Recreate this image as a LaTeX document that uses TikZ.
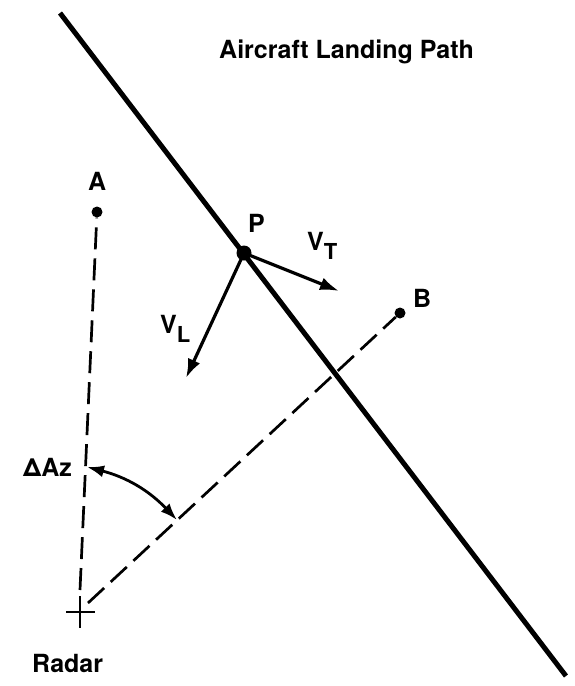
\documentclass[tikz,border=0pt]{standalone}
\usepackage{fontspec}
\setmainfont{TeX Gyre Heros}
\usepackage{tikz}
\usetikzlibrary{arrows.meta,positioning}

\newcommand{\lowsub}[1]{\raisebox{-9pt}{\fontsize{22}{22}\selectfont #1}}

\begin{document}
\begin{tikzpicture}[
  x=1pt, y=-1pt,
  font=\fontsize{25}{28}\selectfont\bfseries,
  lbl/.style={inner sep=0pt, anchor=base west},
  dot/.style={circle, fill, inner sep=0pt, minimum size=11pt},
  bigdot/.style={circle, fill, inner sep=0pt, minimum size=15pt},
  sight/.style={line width=2.7pt, dash pattern=on 22pt off 9pt},
  arr/.style={-{Latex[length=19pt, width=13pt]}, line width=3.2pt}
]
  \useasboundingbox (0,0) rectangle (574,686);

  % landing path
  \coordinate (top) at (60,13);
  \coordinate (bot) at (566,676);
  \draw[line width=5pt] (top) -- (bot);
  \node[lbl] (title) at (219,58) {Aircraft Landing Path};

  % radar and the two sight lines
  \coordinate (radar) at (80,612);
  \draw[line width=2.6pt] (66,612) -- (95,612) (80,596) -- (80,628);
  \node[lbl] (radarlbl) at (32,672) {Radar};
  \node[dot] (A) at (97,212) {};
  \node[lbl] (Albl) at (88,190) {A};
  \node[dot] (B) at (400,313) {};
  \node[lbl] (Blbl) at (413,307) {B};
  \draw[sight] (80,590) -- (A);
  \draw[sight] (88,603) -- (B);

  % aircraft and velocity components
  \node[bigdot] (P) at (244,253) {};
  \node[lbl] (Plbl) at (248,232) {P};
  \coordinate (vt) at (339,291);
  \coordinate (vl) at (186,378);
  \draw[arr] (P.center) -- (vt);
  \draw[arr] (P.center) -- (vl);
  \node[lbl] (VT) at (307,250) {V\lowsub{T}};
  \node[lbl] (VL) at (160,333) {V\lowsub{L}};

  % azimuth difference
  \coordinate (az1) at (87,467);
  \coordinate (az2) at (177,520);
  \draw[{Latex[length=17pt, width=12pt]}-{Latex[length=17pt, width=12pt]}, line width=2.8pt]
    (az1) to[bend left=16] (az2);
  \node[lbl] (azlbl) at (23,476) {ΔAz};
\end{tikzpicture}
\end{document}
